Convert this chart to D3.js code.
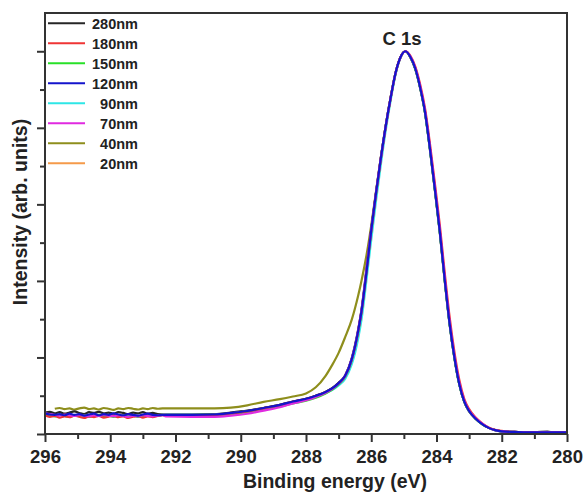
<!DOCTYPE html>
<html>
<head>
<meta charset="utf-8">
<script src="https://cdn.jsdelivr.net/npm/d3@7"></script>
<style>
	body { margin: 0; background: #fff; }
	text { font-family: 'Liberation Sans', Arial, sans-serif; font-weight: bold; fill: #222; }
</style>
</head>
<body>
<div id="chart"></div>
<script>
// binding energy (eV) of the noisy survey part and the smooth part
const energyNoise = [296.0, 295.85, 295.7, 295.55, 295.4, 295.25, 295.1, 294.95, 294.8, 294.65, 294.5, 294.35, 294.2, 294.05, 293.9, 293.75, 293.6, 293.45, 293.3, 293.15, 293.0, 292.85, 292.7, 292.55, 292.4];
const energy = [292.3, 291.5, 290.8, 290.3, 289.8, 289.3, 288.8, 288.4, 288.0, 287.7, 287.4, 287.2, 287.0, 286.8, 286.6, 286.5, 286.4, 286.3, 286.15, 286.0, 285.85, 285.7, 285.55, 285.4, 285.25, 285.1, 284.95, 284.8, 284.65, 284.5, 284.35, 284.2, 284.05, 283.9, 283.75, 283.6, 283.45, 283.3, 283.15, 283.0, 282.8, 282.6, 282.4, 282.2, 282.0, 281.5, 281.0, 280.6, 280.4, 280.0];

const labels = ['280nm', '180nm', '150nm', '120nm', '90nm', '70nm', '40nm', '20nm'];
const colors = ['#262626', '#ef3535', '#28e028', '#1414cc', '#2ee6e6', '#e02ae0', '#8e8e1c', '#f59a4a'];

// normalized intensity
const noise280 = [0.056, 0.058, 0.054, 0.057, 0.053, 0.056, 0.059, 0.055, 0.052, 0.057, 0.055, 0.058, 0.054, 0.056, 0.053, 0.057, 0.055, 0.052, 0.056, 0.054, 0.057, 0.053, 0.055, 0.052, 0.051];
const noise180 = [0.049, 0.045, 0.047, 0.043, 0.046, 0.044, 0.048, 0.045, 0.042, 0.046, 0.044, 0.047, 0.043, 0.045, 0.048, 0.044, 0.046, 0.042, 0.045, 0.047, 0.043, 0.046, 0.044, 0.047, 0.049];
const noise150 = [0.047, 0.049, 0.046, 0.050, 0.047, 0.045, 0.048, 0.046, 0.049, 0.045, 0.047, 0.050, 0.046, 0.048, 0.045, 0.047, 0.049, 0.046, 0.048, 0.045, 0.047, 0.049, 0.046, 0.048, 0.050];
const noise120 = [0.054, 0.051, 0.050, 0.052, 0.049, 0.053, 0.050, 0.052, 0.048, 0.051, 0.053, 0.049, 0.052, 0.050, 0.054, 0.051, 0.049, 0.052, 0.050, 0.048, 0.051, 0.053, 0.050, 0.049, 0.050];
const noise70 = [0.055, 0.052, 0.050, 0.048, 0.051, 0.049, 0.047, 0.050, 0.048, 0.046, 0.049, 0.047, 0.050, 0.048, 0.046, 0.049, 0.047, 0.045, 0.048, 0.046, 0.049, 0.047, 0.046, 0.048, 0.049];
const noise40 = [null, null, 0.066, 0.068, 0.065, 0.067, 0.064, 0.067, 0.069, 0.065, 0.067, 0.064, 0.068, 0.066, 0.063, 0.067, 0.065, 0.068, 0.066, 0.064, 0.067, 0.065, 0.068, 0.066, 0.067];

const int280 = [0.051, 0.051, 0.052, 0.056, 0.061, 0.068, 0.076, 0.085, 0.092, 0.100, 0.110, 0.120, 0.134, 0.153, 0.197, 0.231, 0.273, 0.324, 0.428, 0.535, 0.634, 0.726, 0.809, 0.882, 0.945, 0.985, 1.000, 0.984, 0.953, 0.903, 0.838, 0.742, 0.637, 0.527, 0.402, 0.288, 0.198, 0.129, 0.084, 0.059, 0.040, 0.026, 0.016, 0.010, 0.007, 0.005, 0.005, 0.006, 0.004, 0.004];
const int180 = [0.049, 0.049, 0.050, 0.054, 0.059, 0.067, 0.075, 0.084, 0.091, 0.099, 0.109, 0.118, 0.132, 0.151, 0.193, 0.226, 0.268, 0.318, 0.422, 0.530, 0.630, 0.722, 0.806, 0.880, 0.944, 0.985, 1.000, 0.988, 0.960, 0.913, 0.850, 0.758, 0.655, 0.547, 0.423, 0.307, 0.214, 0.141, 0.092, 0.065, 0.043, 0.028, 0.017, 0.011, 0.008, 0.005, 0.004, 0.004, 0.004, 0.004];
const int150 = [0.048, 0.048, 0.049, 0.052, 0.057, 0.064, 0.072, 0.080, 0.087, 0.095, 0.106, 0.116, 0.130, 0.150, 0.193, 0.227, 0.268, 0.318, 0.423, 0.531, 0.630, 0.723, 0.807, 0.880, 0.944, 0.985, 1.000, 0.985, 0.955, 0.905, 0.840, 0.745, 0.640, 0.530, 0.405, 0.290, 0.200, 0.130, 0.085, 0.060, 0.040, 0.026, 0.016, 0.010, 0.007, 0.005, 0.004, 0.004, 0.004, 0.004];
const int120 = [0.050, 0.050, 0.051, 0.055, 0.060, 0.068, 0.076, 0.085, 0.092, 0.100, 0.110, 0.119, 0.133, 0.152, 0.195, 0.228, 0.270, 0.320, 0.420, 0.533, 0.632, 0.724, 0.808, 0.881, 0.945, 0.985, 1.000, 0.985, 0.955, 0.905, 0.840, 0.745, 0.640, 0.530, 0.405, 0.290, 0.200, 0.130, 0.085, 0.060, 0.040, 0.026, 0.016, 0.010, 0.007, 0.005, 0.004, 0.004, 0.004, 0.004];
const int90 = [0.050, 0.050, 0.051, 0.054, 0.059, 0.066, 0.074, 0.083, 0.090, 0.098, 0.107, 0.115, 0.127, 0.144, 0.182, 0.211, 0.250, 0.298, 0.400, 0.508, 0.612, 0.708, 0.797, 0.874, 0.941, 0.984, 1.000, 0.985, 0.955, 0.905, 0.840, 0.745, 0.640, 0.530, 0.405, 0.290, 0.200, 0.130, 0.085, 0.060, 0.040, 0.026, 0.016, 0.010, 0.007, 0.005, 0.004, 0.004, 0.004, 0.004];
const int70 = [0.046, 0.045, 0.045, 0.048, 0.053, 0.061, 0.070, 0.080, 0.088, 0.097, 0.108, 0.118, 0.132, 0.152, 0.196, 0.229, 0.272, 0.322, 0.427, 0.534, 0.633, 0.725, 0.808, 0.881, 0.945, 0.985, 1.000, 0.986, 0.957, 0.908, 0.844, 0.750, 0.646, 0.536, 0.411, 0.295, 0.204, 0.133, 0.087, 0.061, 0.041, 0.027, 0.016, 0.010, 0.007, 0.005, 0.004, 0.004, 0.004, 0.004];
const int40 = [0.067, 0.067, 0.067, 0.069, 0.075, 0.084, 0.091, 0.098, 0.106, 0.122, 0.152, 0.180, 0.212, 0.253, 0.298, 0.328, 0.362, 0.400, 0.465, 0.545, 0.636, 0.726, 0.809, 0.882, 0.945, 0.985, 1.000, 0.985, 0.955, 0.905, 0.840, 0.745, 0.640, 0.530, 0.405, 0.290, 0.200, 0.130, 0.085, 0.060, 0.040, 0.026, 0.016, 0.010, 0.007, 0.005, 0.004, 0.004, 0.004, 0.004];
const int20 = [0.050, 0.050, 0.051, 0.055, 0.060, 0.068, 0.076, 0.085, 0.092, 0.100, 0.110, 0.119, 0.133, 0.152, 0.195, 0.228, 0.270, 0.320, 0.420, 0.533, 0.632, 0.724, 0.808, 0.881, 0.945, 0.985, 1.000, 0.985, 0.955, 0.905, 0.840, 0.745, 0.640, 0.530, 0.405, 0.290, 0.200, 0.130, 0.085, 0.060, 0.040, 0.026, 0.016, 0.010, 0.007, 0.005, 0.004, 0.004, 0.004, 0.004];

const noiseSets = [noise280, noise180, noise150, noise120, null, noise70, noise40, null];
const smoothSets = [int280, int180, int150, int120, int90, int70, int40, int20];

const xMajor = [296, 294, 292, 290, 288, 286, 284, 282, 280];
const xMinor = [295, 293, 291, 289, 287, 285, 283, 281];
const yMajor = [0, 0.2, 0.4, 0.6, 0.8, 1.0];
const yMinor = [0.1, 0.3, 0.5, 0.7, 0.9];

const width = 584, height = 493;
const margin = { left: 45, right: 17, top: 13, bottom: 59 };

const svg = d3.select('#chart')
	.append('svg')
	.attr('width', width)
	.attr('height', height);

const x = d3.scaleLinear().domain([296, 280]).range([margin.left, width - margin.right]);
const y = d3.scaleLinear().domain([0, 1.1]).range([height - margin.bottom, margin.top]);

// series as point lists
const series = labels.map((label, i) => {
	let pts = [];
	if (noiseSets[i]) {
		noiseSets[i].forEach((v, j) => { if (v !== null) pts.push([energyNoise[j], v]); });
	}
	smoothSets[i].forEach((v, j) => pts.push([energy[j], v]));
	return { label, color: colors[i], pts };
});

const line = d3.line()
	.x((d) => x(d[0]))
	.y((d) => y(d[1]))
	.curve(d3.curveMonotoneX);

const drawOrder = [7, 6, 0, 4, 2, 1, 5, 3];

svg.append('g')
	.selectAll('path')
	.data(drawOrder.map((i) => series[i]))
	.enter()
	.append('path')
	.attr('d', (d) => line(d.pts))
	.attr('fill', 'none')
	.attr('stroke', (d) => d.color)
	.attr('stroke-width', 2.2)
	.attr('stroke-linejoin', 'round');

// frame
const axisColor = '#333';
svg.append('rect')
	.attr('x', margin.left)
	.attr('y', margin.top)
	.attr('width', width - margin.left - margin.right)
	.attr('height', height - margin.top - margin.bottom)
	.attr('fill', 'none')
	.attr('stroke', axisColor)
	.attr('stroke-width', 2);

const bottom = height - margin.bottom;

const xAxis = svg.append('g')
	.attr('transform', `translate(0, ${bottom})`)
	.call(d3.axisBottom(x).tickValues(xMajor).tickSize(8).tickPadding(8).tickFormat(d3.format('d')));

svg.append('g')
	.attr('transform', `translate(0, ${bottom})`)
	.call(d3.axisBottom(x).tickValues(xMinor).tickSize(5).tickFormat(''));

svg.append('g')
	.attr('transform', `translate(${margin.left}, 0)`)
	.call(d3.axisLeft(y).tickValues(yMajor).tickSize(8).tickFormat(''));

svg.append('g')
	.attr('transform', `translate(${margin.left}, 0)`)
	.call(d3.axisLeft(y).tickValues(yMinor).tickSize(5).tickFormat(''));

svg.selectAll('.domain').remove();
svg.selectAll('.tick line')
	.attr('stroke', axisColor)
	.attr('stroke-width', 2);

xAxis.selectAll('.tick text')
	.style('font-size', '18.5px')
	.style('font-family', "'Liberation Sans', Arial, sans-serif")
	.style('font-weight', 'bold')
	.attr('fill', '#222');

svg.append('text')
	.attr('x', 335)
	.attr('y', 488)
	.attr('text-anchor', 'middle')
	.style('font-size', '19.5px')
	.text('Binding energy (eV)');

svg.append('text')
	.attr('transform', 'translate(27, 212) rotate(-90)')
	.attr('text-anchor', 'middle')
	.style('font-size', '19.5px')
	.text('Intensity (arb. units)');

svg.append('text')
	.attr('x', 402)
	.attr('y', 45)
	.attr('text-anchor', 'middle')
	.style('font-size', '18.5px')
	.text('C 1s');

// legend
const legend = svg.append('g')
	.selectAll('g')
	.data(series)
	.enter()
	.append('g')
	.attr('transform', (d, i) => `translate(0, ${23.3 + i * 20})`);

legend.append('line')
	.attr('x1', 48)
	.attr('x2', 85)
	.attr('stroke', (d) => d.color)
	.attr('stroke-width', 2);

legend.append('text')
	.attr('x', 138)
	.attr('dy', '0.36em')
	.attr('text-anchor', 'end')
	.style('font-size', '14.5px')
	.text((d) => d.label);
</script>
</body>
</html>
